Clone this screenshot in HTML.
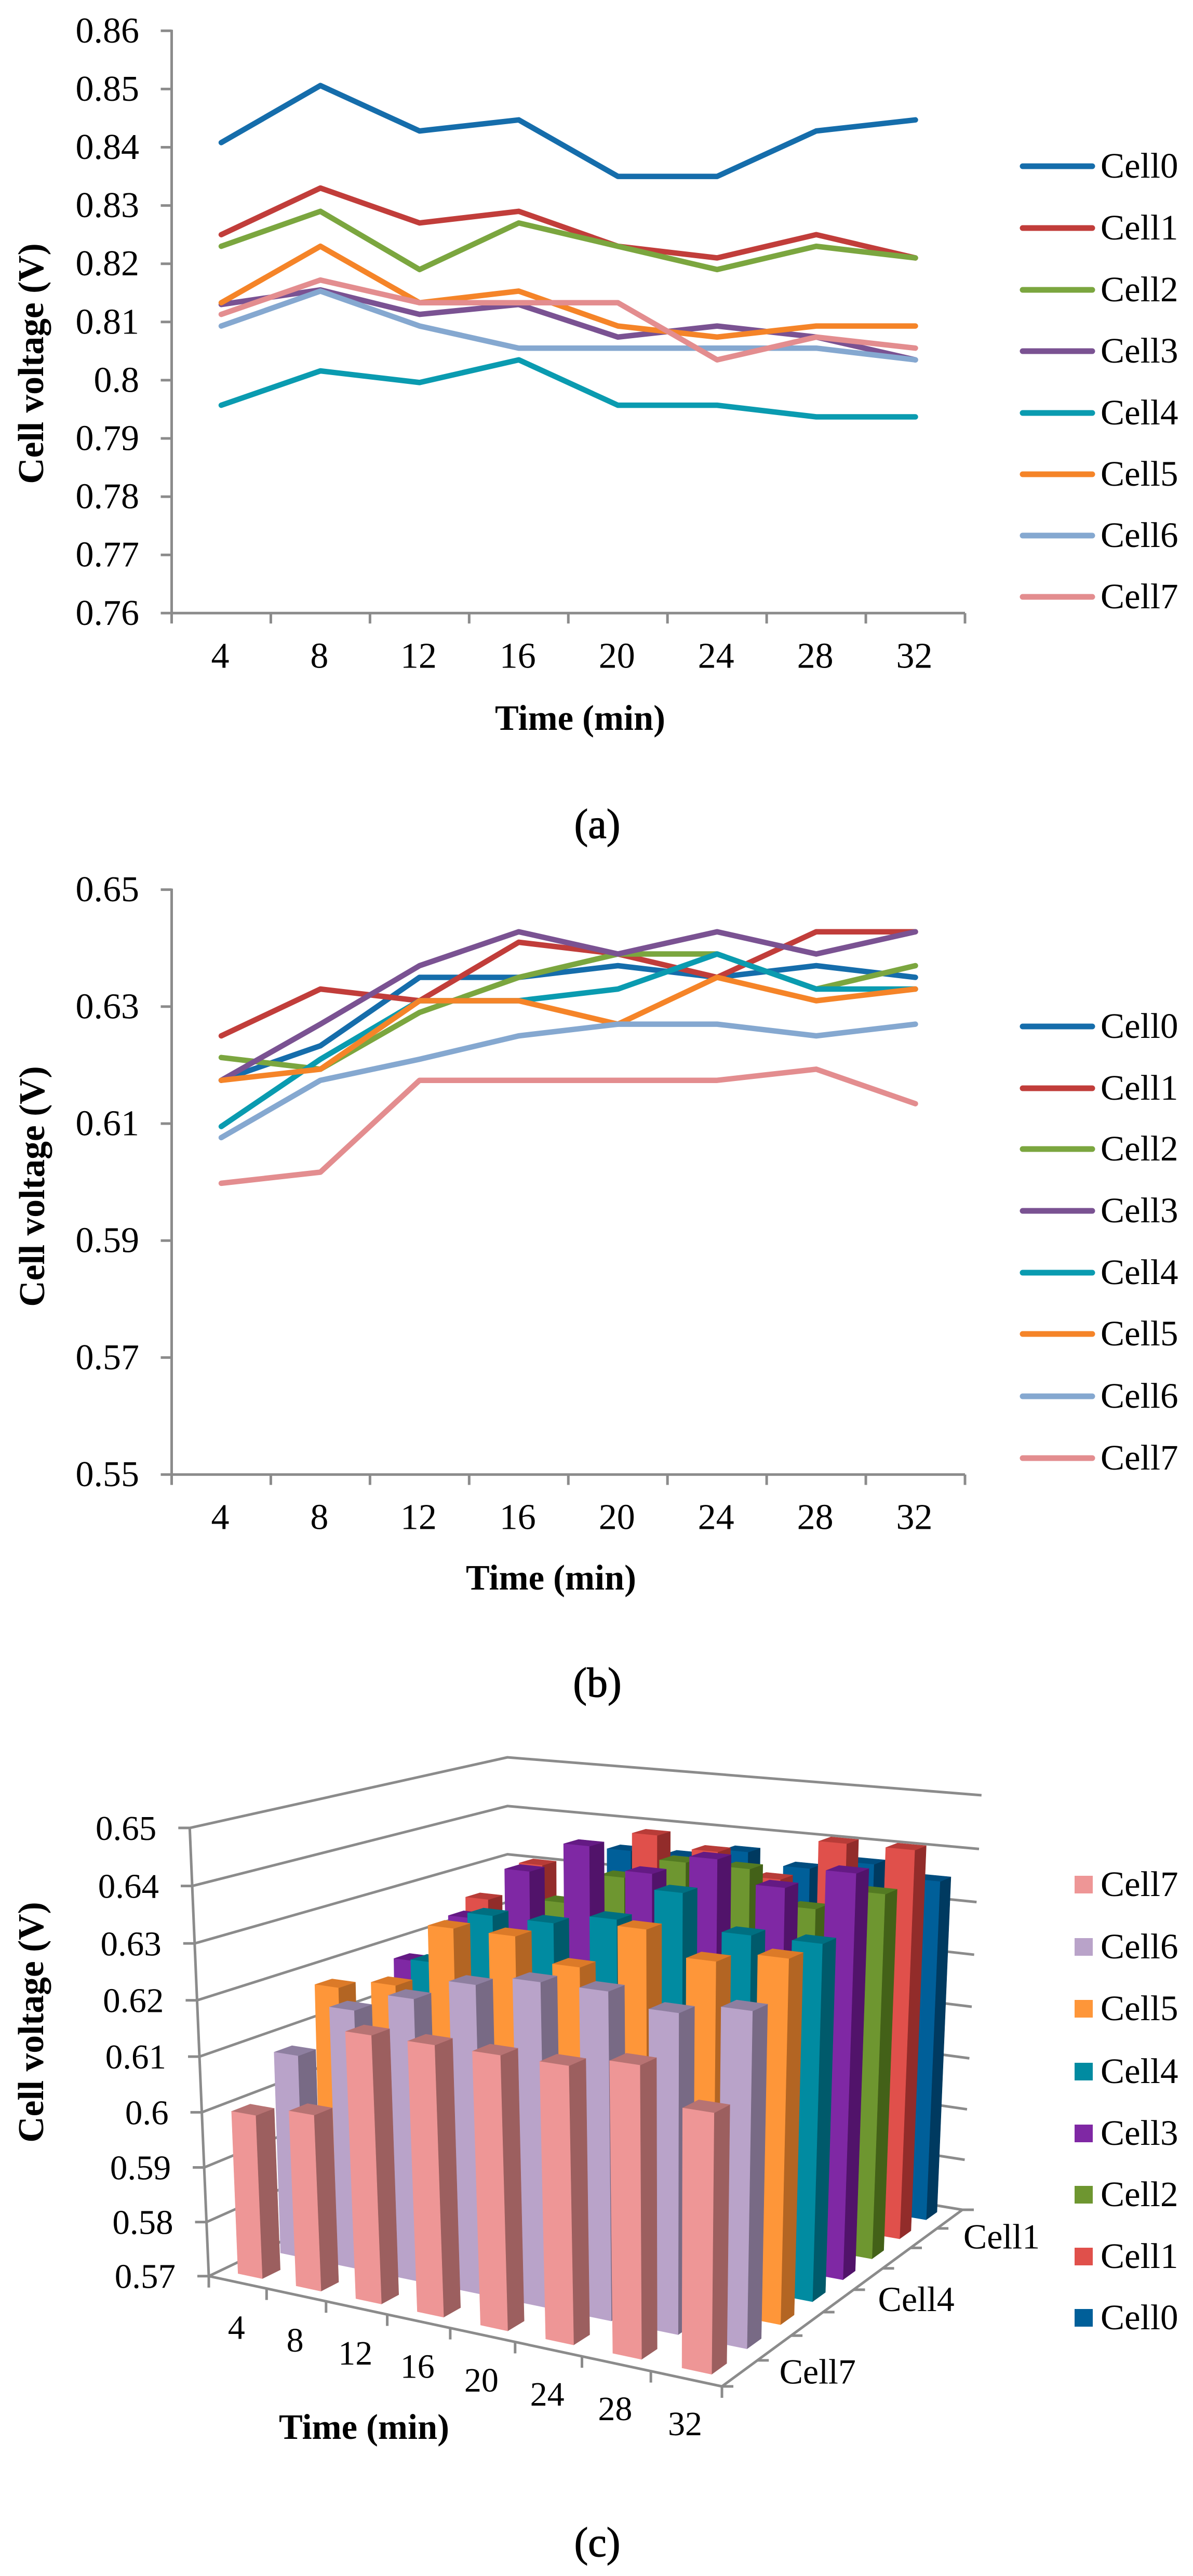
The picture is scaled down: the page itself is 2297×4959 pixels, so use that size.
<!DOCTYPE html>
<html lang="en">
<head>
<meta charset="utf-8">
<title>Cell voltage charts</title>
<style>
html,body{margin:0;padding:0;background:#fff;}
svg{display:block;font-family:"Liberation Serif",serif;fill:#000;}
</style>
</head>
<body>
<svg id="figure" xmlns="http://www.w3.org/2000/svg" width="2297" height="4959" viewBox="0 0 2297 4959">
  <rect x="0" y="0" width="2297" height="4959" fill="#ffffff"/>
  <g id="panel-a"></g>
  <g id="panel-b"></g>
  <g id="panel-c"></g>
  <text transform="translate(83,700) rotate(-90)" text-anchor="middle" font-size="69.5" font-weight="bold">Cell voltage (V)</text>
  <text x="1117" y="1405" text-anchor="middle" font-size="68.5" font-weight="bold">Time (min)</text>
  <text x="1150" y="1613" text-anchor="middle" font-size="80" stroke="#000" stroke-width="1.2">(a)</text>
  <text transform="translate(85,2284) rotate(-90)" text-anchor="middle" font-size="69.5" font-weight="bold">Cell voltage (V)</text>
  <text x="1061" y="3060" text-anchor="middle" font-size="68.5" font-weight="bold">Time (min)</text>
  <text x="1150" y="3266" text-anchor="middle" font-size="80" stroke="#000" stroke-width="1.2">(b)</text>
  <text transform="translate(83,3893) rotate(-90)" text-anchor="middle" font-size="69.5" font-weight="bold">Cell voltage (V)</text>
  <text x="701" y="4695" text-anchor="middle" font-size="68.5" font-weight="bold">Time (min)</text>
  <text x="1150" y="4921" text-anchor="middle" font-size="80" stroke="#000" stroke-width="1.2">(c)</text>
</svg>
<script>
// ---- data ----
const timeCategories = [4, 8, 12, 16, 20, 24, 28, 32];
const seriesNames = ['Cell0', 'Cell1', 'Cell2', 'Cell3', 'Cell4', 'Cell5', 'Cell6', 'Cell7'];

const panelATicks = ['0.76', '0.77', '0.78', '0.79', '0.8', '0.81', '0.82', '0.83', '0.84', '0.85', '0.86'];
const panelACell0 = [0.8408, 0.8506, 0.8428, 0.8447, 0.835, 0.835, 0.8428, 0.8447];
const panelACell1 = [0.825, 0.833, 0.827, 0.829, 0.823, 0.821, 0.825, 0.821];
const panelACell2 = [0.823, 0.829, 0.819, 0.827, 0.823, 0.819, 0.823, 0.821];
const panelACell3 = [0.813, 0.8155, 0.8113, 0.813, 0.8074, 0.8093, 0.8074, 0.8035];
const panelACell4 = [0.7957, 0.8016, 0.7996, 0.8035, 0.7957, 0.7957, 0.7937, 0.7937];
const panelACell5 = [0.8133, 0.823, 0.8133, 0.8153, 0.8093, 0.8074, 0.8093, 0.8093];
const panelACell6 = [0.8093, 0.8153, 0.8093, 0.8055, 0.8055, 0.8055, 0.8055, 0.8035];
const panelACell7 = [0.8113, 0.8172, 0.8133, 0.8133, 0.8133, 0.8035, 0.8074, 0.8055];

const panelBTicks = ['0.55', '0.57', '0.59', '0.61', '0.63', '0.65'];
const panelBCell0 = [0.6174, 0.6233, 0.635, 0.635, 0.637, 0.635, 0.637, 0.635];
const panelBCell1 = [0.625, 0.633, 0.631, 0.641, 0.639, 0.635, 0.6428, 0.6428];
const panelBCell2 = [0.6213, 0.6193, 0.629, 0.635, 0.639, 0.639, 0.633, 0.637];
const panelBCell3 = [0.6174, 0.627, 0.637, 0.6428, 0.639, 0.6428, 0.639, 0.6428];
const panelBCell4 = [0.6095, 0.621, 0.631, 0.631, 0.633, 0.639, 0.633, 0.633];
const panelBCell5 = [0.6174, 0.6193, 0.631, 0.631, 0.627, 0.635, 0.631, 0.633];
const panelBCell6 = [0.6076, 0.6174, 0.621, 0.625, 0.627, 0.627, 0.625, 0.627];
const panelBCell7 = [0.5998, 0.6017, 0.6174, 0.6174, 0.6174, 0.6174, 0.6193, 0.6134];

const panelCTicks = ['0.57', '0.58', '0.59', '0.6', '0.61', '0.62', '0.63', '0.64', '0.65'];
const panelCDepthLabels = ['Cell7', 'Cell4', 'Cell1'];
const panelCCell0 = [0.6174, 0.6233, 0.635, 0.635, 0.637, 0.635, 0.637, 0.635];
const panelCCell1 = [0.625, 0.633, 0.631, 0.641, 0.639, 0.635, 0.6428, 0.6428];
const panelCCell2 = [0.6213, 0.6193, 0.629, 0.635, 0.639, 0.639, 0.633, 0.637];
const panelCCell3 = [0.6174, 0.627, 0.637, 0.6428, 0.639, 0.6428, 0.639, 0.6428];
const panelCCell4 = [0.6095, 0.621, 0.631, 0.631, 0.633, 0.639, 0.633, 0.633];
const panelCCell5 = [0.6174, 0.6193, 0.631, 0.631, 0.627, 0.635, 0.631, 0.633];
const panelCCell6 = [0.6076, 0.6174, 0.621, 0.625, 0.627, 0.627, 0.625, 0.627];
const panelCCell7 = [0.5998, 0.6017, 0.6174, 0.6174, 0.6174, 0.6174, 0.6193, 0.6134];

// ---- styling (not data) ----
const lineColors = ['#156DAB', '#C13D3A', '#7BA63F', '#7A5292', '#0A9BB0', '#F58428', '#85A8D0', '#E38D8F'];
const frontColors = ['#005F99', '#E0504B', '#6E9630', '#7F28A4', '#018BA1', '#FE9639', '#B9A3C9', '#EE9696'];
const sideColors = ['#003A60', '#922C2A', '#436118', '#51136A', '#005A6B', '#B36523', '#786A85', '#9C5F5F'];
const topColors = ['#004D7F', '#B83C38', '#537A22', '#641A84', '#006F81', '#DC7A28', '#8E7FA0', '#B77373'];
const AXIS = '#8B8B8B';
const SVGNS = 'http://www.w3.org/2000/svg';

function shape(parent, tag, name, attrs) {
  const el = document.createElementNS(SVGNS, tag);
  
  
  for (const k in attrs) el.setAttribute(k, attrs[k]);
  parent.appendChild(el);
  return el;
}
function line(parent, name, x1, y1, x2, y2, w) {
  return shape(parent, 'line', name, {x1: x1, y1: y1, x2: x2, y2: y2, stroke: AXIS, 'stroke-width': w || 5});
}
function label(parent, name, x, y, str, size, anchor) {
  const el = shape(parent, 'text', name, {x: x, y: y, 'font-size': size, 'text-anchor': anchor || 'start'});
  el.textContent = str;
  return el;
}

// ---- 2D line panels ----
function linePanel(group, prefix, ticks, series, yTop, yBottom, legendY) {
  const xLeft = 330.5, xRight = 1858;
  const yMin = parseFloat(ticks[0]);
  const yMax = parseFloat(ticks[ticks.length - 1]);
  const yScale = v => yBottom - (v - yMin) / (yMax - yMin) * (yBottom - yTop);
  const band = (xRight - xLeft) / timeCategories.length;
  const xScale = i => xLeft + band * (i + 0.5);

  line(group, prefix + '-y-axis', xLeft, yTop - 2, xLeft, yBottom + 20);
  line(group, prefix + '-x-axis', xLeft - 21, yBottom, xRight, yBottom);
  ticks.forEach(function (t, i) {
    const y = yScale(parseFloat(t));
    if (i > 0) line(group, prefix + '-y-tick', xLeft - 21, y, xLeft, y);
    label(group, prefix + '-y-tick-label', 268, y + 22.5, t, 70, 'end');
  });
  for (let i = 1; i <= timeCategories.length; i++) {
    line(group, prefix + '-x-tick', xLeft + band * i, yBottom, xLeft + band * i, yBottom + 20);
  }
  timeCategories.forEach(function (c, i) {
    label(group, prefix + '-x-tick-label', xScale(i) - 2, yBottom + 105, String(c), 70, 'middle');
  });
  series.forEach(function (vals, s) {
    const pts = vals.map((v, i) => xScale(i).toFixed(1) + ',' + yScale(v).toFixed(1)).join(' ');
    shape(group, 'polyline', prefix + '-line-' + seriesNames[s].toLowerCase(), {
      points: pts, fill: 'none', stroke: lineColors[s], 'stroke-width': 10.5,
      'stroke-linejoin': 'round', 'stroke-linecap': 'round'
    });
  });
  legendY.forEach(function (y, s) {
    shape(group, 'line', prefix + '-legend-key-' + seriesNames[s].toLowerCase(), {
      x1: 1969, y1: y, x2: 2103, y2: y, stroke: lineColors[s], 'stroke-width': 11, 'stroke-linecap': 'round'
    });
    label(group, prefix + '-legend-label-' + seriesNames[s].toLowerCase(), 2119, y + 22, seriesNames[s], 69);
  });
}

linePanel(document.getElementById('panel-a'), 'panel-a', panelATicks,
  [panelACell0, panelACell1, panelACell2, panelACell3, panelACell4, panelACell5, panelACell6, panelACell7],
  59.3, 1180.3, [320, 439, 558, 676, 795, 913, 1031, 1149]);
linePanel(document.getElementById('panel-b'), 'panel-b', panelBTicks,
  [panelBCell0, panelBCell1, panelBCell2, panelBCell3, panelBCell4, panelBCell5, panelBCell6, panelBCell7],
  1712.6, 2838.6, [1976, 2095, 2212, 2331, 2450, 2568, 2688, 2807]);

// ---- 3D bar panel ----
function homography(q) {
  const [x0, y0] = q[0], [x1, y1] = q[1], [x2, y2] = q[2], [x3, y3] = q[3];
  const dx1 = x1 - x2, dx2 = x3 - x2, sx = x0 - x1 + x2 - x3;
  const dy1 = y1 - y2, dy2 = y3 - y2, sy = y0 - y1 + y2 - y3;
  const den = dx1 * dy2 - dx2 * dy1;
  const g = (sx * dy2 - dx2 * sy) / den, h = (dx1 * sy - sx * dy1) / den;
  const a = x1 - x0 + g * x1, b = x3 - x0 + h * x3, d = y1 - y0 + g * y1, e = y3 - y0 + h * y3;
  return function (u, v) {
    const w = g * u + h * v + 1;
    return [(a * u + b * v + x0) / w, (d * u + e * v + y0) / w];
  };
}
// floor and ceiling planes of the plot box: front-left, front-right, back-right, back-left
const floorPlane = homography([[402, 4381.7], [1390, 4594], [1853, 4254], [977, 4107]]);
const ceilingPlane = homography([[365.3, 3518.9], [1401, 3639], [1889.8, 3456], [977, 3383]]);
const cMin = parseFloat(panelCTicks[0]);
const cMax = parseFloat(panelCTicks[panelCTicks.length - 1]);
function project(u, v, value) {
  const t = (value - cMin) / (cMax - cMin);
  const r = 0.96;
  const tp = t * r / (1 + t * (r - 1));
  const a = floorPlane(u / 8, v / 8), b = ceilingPlane(u / 8, v / 8);
  return [a[0] + (b[0] - a[0]) * tp, a[1] + (b[1] - a[1]) * tp];
}
function poly(parent, name, pts, fill) {
  return shape(parent, 'polygon', name, {
    points: pts.map(p => p[0].toFixed(1) + ',' + p[1].toFixed(1)).join(' '),
    fill: fill, stroke: fill, 'stroke-width': 0.6
  });
}
function drawPanelC() {
  const g = document.getElementById('panel-c');
  const seg = (name, a, b) => line(g, name, a[0], a[1], b[0], b[1], 5);

  // walls: gridlines run along the left wall then along the back wall
  panelCTicks.forEach(function (t) {
    const v = parseFloat(t);
    const a = project(0, 0, v), b = project(0, 8, v), c = project(8, 8, v);
    shape(g, 'polyline', 'panel-c-gridline', {
      points: a.join(',') + ' ' + b.join(',') + ' ' + c.join(','),
      fill: 'none', stroke: AXIS, 'stroke-width': 5, 'stroke-linejoin': 'round'
    });
    seg('panel-c-y-tick', [a[0] - 22, a[1]], a);
    label(g, 'panel-c-y-tick-label', a[0] - 64, a[1] + 23, t, 67, 'end');
  });
  seg('panel-c-y-axis', project(0, 0, cMin), project(0, 0, cMax));

  // floor axes with ticks
  seg('panel-c-time-axis', project(0, 0, cMin), project(8, 0, cMin));
  seg('panel-c-depth-axis', project(8, 0, cMin), project(8, 8, cMin));
  for (let i = 0; i <= 8; i++) {
    const p = project(i, 0, cMin);
    seg('panel-c-time-tick', p, [p[0], p[1] + 22]);
    const q = project(8, i, cMin);
    seg('panel-c-depth-tick', q, [q[0] + 22, q[1]]);
  }
  timeCategories.forEach(function (c, i) {
    const p = project(i + 0.5, 0, cMin);
    label(g, 'panel-c-time-label', p[0] - 2, p[1] + 109, String(c), 66, 'middle');
  });
  panelCDepthLabels.forEach(function (name) {
    const s = seriesNames.indexOf(name);
    const p = project(8, 7.5 - s, cMin);
    label(g, 'panel-c-depth-label', p[0] + 76, p[1] + 20, name, 68);
  });

  // bars, back row first, left to right
  const series = [panelCCell0, panelCCell1, panelCCell2, panelCCell3, panelCCell4, panelCCell5, panelCCell6, panelCCell7];
  const halfU = 0.21, halfV = 0.21;
  series.forEach(function (vals, s) {
    const v0 = 7.5 - s - halfV, v1 = 7.5 - s + halfV;
    vals.forEach(function (val, i) {
      const u0 = i + 0.5 - halfU, u1 = i + 0.5 + halfU;
      const base = seriesNames[s].toLowerCase() + '-' + timeCategories[i];
      poly(g, 'bar-side-' + base, [project(u1, v0, cMin), project(u1, v1, cMin), project(u1, v1, val), project(u1, v0, val)], sideColors[s]);
      poly(g, 'bar-top-' + base, [project(u0, v0, val), project(u1, v0, val), project(u1, v1, val), project(u0, v1, val)], topColors[s]);
      poly(g, 'bar-front-' + base, [project(u0, v0, cMin), project(u1, v0, cMin), project(u1, v0, val), project(u0, v0, val)], frontColors[s]);
    });
  });

  // legend, front series first
  const legendY = [3628, 3748, 3867, 3988, 4107, 4225, 4344, 4462];
  legendY.forEach(function (y, k) {
    const s = 7 - k;
    shape(g, 'rect', 'panel-c-legend-swatch-' + seriesNames[s].toLowerCase(), {x: 2069, y: y - 17, width: 35, height: 34, fill: frontColors[s]});
    label(g, 'panel-c-legend-label-' + seriesNames[s].toLowerCase(), 2119, y + 22, seriesNames[s], 69);
  });
}
drawPanelC();
</script>
</body>
</html>
